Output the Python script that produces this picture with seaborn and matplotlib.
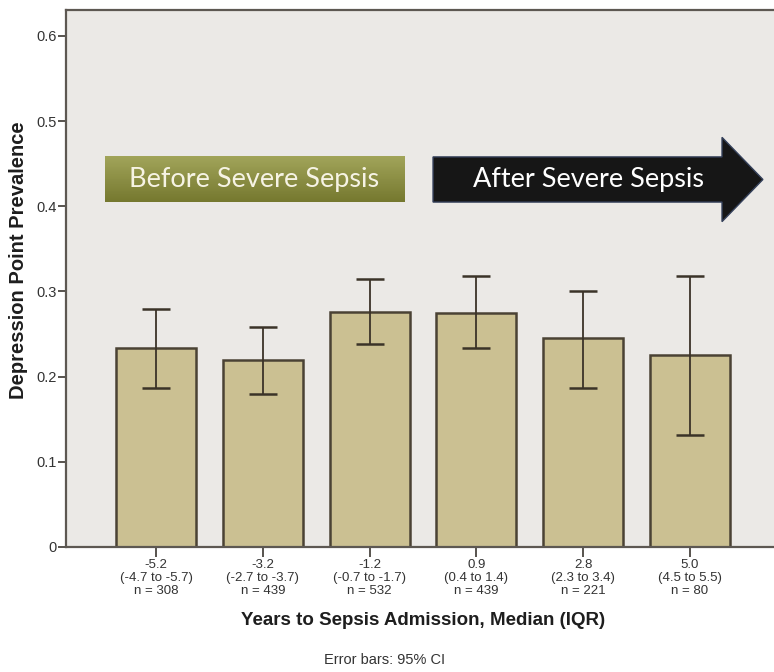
import numpy as np
import pandas as pd
import matplotlib
matplotlib.use("Agg")
import matplotlib.pyplot as plt
import seaborn as sns
from matplotlib.patches import Polygon
from matplotlib.colors import LinearSegmentedColormap

# ---- data ----
medians = ["-5.2", "-3.2", "-1.2", "0.9", "2.8", "5.0"]
iqrs = ["(-4.7 to -5.7)", "(-2.7 to -3.7)", "(-0.7 to -1.7)",
        "(0.4 to 1.4)", "(2.3 to 3.4)", "(4.5 to 5.5)"]
ns = [308, 439, 532, 439, 221, 80]
prevalence = [0.234, 0.219, 0.276, 0.275, 0.245, 0.225]
ci_low = [0.187, 0.180, 0.238, 0.234, 0.187, 0.132]
ci_high = [0.280, 0.258, 0.315, 0.318, 0.301, 0.318]
yticks = [0, 0.1, 0.2, 0.3, 0.4, 0.5, 0.6]
ytick_labels = ["0", "0.1", "0.2", "0.3", "0.4", "0.5", "0.6"]

labels = [f"{m}\n{q}\nn = {n}" for m, q, n in zip(medians, iqrs, ns)]
df = pd.DataFrame({"group": labels, "prevalence": prevalence})

sns.set_theme(style="white")
plt.rcParams["font.family"] = ["Liberation Sans", "DejaVu Sans"]

W, H = 774, 672
fig = plt.figure(figsize=(W / 100, H / 100), dpi=100)
fig.patch.set_facecolor("white")
ax = fig.add_axes([66 / W, 1 - 547 / H, (780 - 66) / W, (547 - 10) / H])
ax.set_facecolor("#ebe9e6")

sns.barplot(data=df, x="group", y="prevalence", order=labels, color="#cbc092",
            saturation=1, edgecolor="#4a4234", linewidth=1.8, width=0.75,
            errorbar=None, ax=ax, zorder=2)

xs = np.arange(len(labels))
yerr = [np.subtract(prevalence, ci_low), np.subtract(ci_high, prevalence)]
ax.errorbar(xs, prevalence, yerr=yerr, fmt="none", ecolor="#3b3328",
            elinewidth=1.3, capsize=10, capthick=1.8, zorder=4)

# ---- annotation boxes ----
bx0, bx1, by0, by1 = -0.478, 2.322, 0.405, 0.458
grad = np.linspace(0, 1, 64).reshape(-1, 1)
cmap = LinearSegmentedColormap.from_list("olive", ["#a2a55a", "#75782f"])
ax.imshow(grad, extent=[bx0, bx1, by0, by1], aspect="auto", cmap=cmap,
          origin="upper", zorder=3)
ax.text((bx0 + bx1) / 2, (by0 + by1) / 2, "Before Severe Sepsis",
        ha="center", va="center", color="#f6f3e4", fontsize=19.5,
        family=["Lato", "DejaVu Sans"], zorder=5)

arrow_pts = [(2.594, 0.405), (5.30, 0.405), (5.30, 0.382), (5.683, 0.4315),
             (5.30, 0.481), (5.30, 0.458), (2.594, 0.458)]
ax.add_patch(Polygon(arrow_pts, closed=True, facecolor="#161616",
                     edgecolor="#34405a", linewidth=1.0, zorder=3))
ax.text(4.05, 0.4315, "After Severe Sepsis", ha="center", va="center",
        color="white", fontsize=19.5, family=["Lato", "DejaVu Sans"], zorder=5)

# ---- axes ----
ax.set_xlim(-0.843, 5.843)
ax.set_ylim(0, 0.6305)
ax.set_yticks(yticks)
ax.set_yticklabels(ytick_labels)
ax.tick_params(axis="both", direction="out", length=6, width=1.3,
               color="#4a4540", labelcolor="#333333", bottom=True, left=True)
ax.tick_params(axis="x", labelsize=9.5, pad=2, length=7)
ax.tick_params(axis="y", labelsize=10.5, pad=1)
for lab in ax.get_xticklabels():
    lab.set_linespacing(1.08)
for side in ["left", "top", "bottom"]:
    ax.spines[side].set_color("#5d5852")
    ax.spines[side].set_linewidth(1.6)
ax.spines["right"].set_visible(False)

ax.set_xlabel("Years to Sepsis Admission, Median (IQR)", fontsize=13.5,
              fontweight="bold", color="#1e1e1e", labelpad=11)
ax.set_ylabel("Depression Point Prevalence", fontsize=14.5,
              fontweight="bold", color="#1e1e1e")
ax.yaxis.set_label_coords(-0.053, 0.534)

fig.text(0.497, 1 - 660 / H, "Error bars: 95% CI", ha="center", va="center",
         fontsize=10.5, color="#333333")

fig.savefig("out.png", dpi=100, facecolor="white")
